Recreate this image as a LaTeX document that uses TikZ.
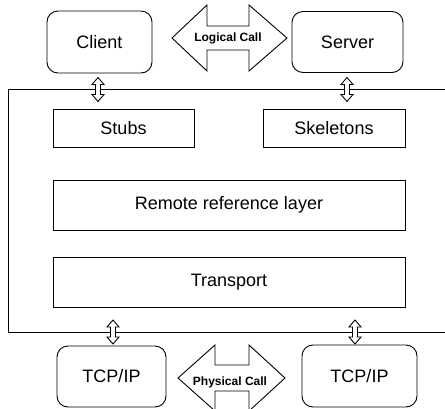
\documentclass[tikz,border=0pt]{standalone}
\usepackage{fontspec}
\setmainfont{Liberation Sans}
\begin{document}
\begin{tikzpicture}[x=1pt,y=-1pt,
  every node/.style={font=\fontsize{18}{20}\selectfont},
  rbox/.style={draw, line width=0.9pt, rounded corners=11pt, inner sep=0pt},
  sbox/.style={draw, line width=0.9pt, inner sep=0pt},
  fat/.style={draw, line width=0.9pt, fill=white, line join=miter},
  calltext/.style={font=\fontsize{12}{14}\selectfont\bfseries, inner sep=0pt},
  frame/.style={line width=0.9pt}]
\useasboundingbox (0,0) rectangle (445,408);
% frame of the RMI layers
\coordinate (ftr) at (445,89);
\coordinate (ftl) at (8,89);
\coordinate (fbl) at (8,332);
\coordinate (fbr) at (445,332);
\draw[frame] (ftr) -- (ftl) -- (fbl) -- (fbr);
% top boxes
\node[rbox, minimum width=105, minimum height=62] (client) at (99.5,42) {Client};
\node[rbox, minimum width=111, minimum height=61] (server) at (347.5,42) {Server};
% layers
\node[sbox, minimum width=141, minimum height=38] (stubs) at (123.5,128) {Stubs};
\node[sbox, minimum width=142, minimum height=38] (skel) at (334,128) {Skeletons};
\node[sbox, minimum width=352, minimum height=50] (rrl) at (229,205) {Remote reference layer};
\node[sbox, minimum width=352, minimum height=50] (trans) at (229,282) {Transport};
% bottom boxes
\node[rbox, minimum width=109, minimum height=61] (tcpl) at (111.5,376.5) {TCP/IP};
\node[rbox, minimum width=115, minimum height=62] (tcpr) at (359.5,376) {TCP/IP};
% big double arrows
\coordinate (lcl) at (172,38);
\draw[fat] (lcl) -- ++(35,-33) -- ++(0,21) -- ++(42,0) -- ++(0,-21) -- ++(38,33)
  -- ++(-38,33) -- ++(0,-21) -- ++(-42,0) -- ++(0,21) -- cycle;
\node[calltext] (logical) at (228,38) {Logical Call};
\coordinate (pcl) at (178,378);
\draw[fat] (pcl) -- ++(37,-33) -- ++(0,20) -- ++(34,0) -- ++(0,-20) -- ++(36,33)
  -- ++(-36,33) -- ++(0,-20) -- ++(-34,0) -- ++(0,20) -- cycle;
\node[calltext] (physical) at (230,382) {Physical Call};
% small vertical double arrows
\coordinate (a1) at (98,89.5);
\coordinate (a2) at (347,89.5);
\coordinate (a3) at (113,332);
\coordinate (a4) at (355,332);
\foreach \c in {a1,a2,a3,a4}{
  \draw[fat] ([yshift=12pt]\c) -- ++(6,7) -- ++(-3.5,0) -- ++(0,10) -- ++(3.5,0)
    -- ++(-6,7) -- ++(-6,-7) -- ++(3.5,0) -- ++(0,-10) -- ++(-3.5,0) -- cycle;
}
\end{tikzpicture}
\end{document}
